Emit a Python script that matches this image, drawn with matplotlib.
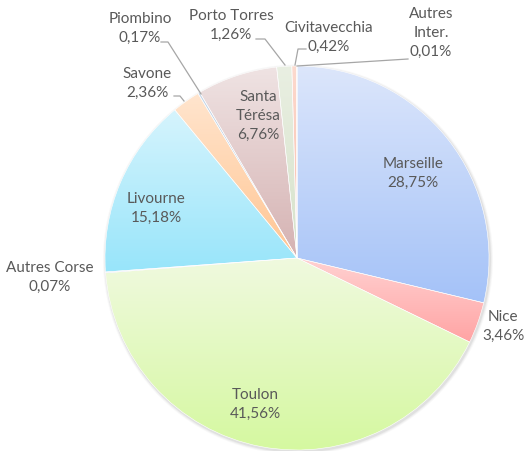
import matplotlib
matplotlib.use("Agg")
import matplotlib.pyplot as plt
from matplotlib.colors import LinearSegmentedColormap
from matplotlib.patches import Circle
import numpy as np

plt.rcParams['font.family'] = ['Lato', 'DejaVu Sans']

# parts in clockwise order from 12 o'clock
ports = ["Marseille", "Nice", "Toulon", "Autres Corse", "Livourne", "Savone",
         "Piombino", "Santa Térésa", "Porto Torres", "Civitavecchia", "Autres Inter."]
shares = [28.75, 3.46, 41.56, 0.07, 15.18, 2.36, 0.17, 6.76, 1.26, 0.42, 0.01]
label_names = ["Marseille", "Nice", "Toulon", "Autres Corse", "Livourne", "Savone",
               "Piombino", "Santa\nTérésa", "Porto Torres", "Civitavecchia", "Autres\nInter."]

# gradient (top, bottom) for each slice
grad_top = ["#DCE6FB", "#FFD2D2", "#F0FADF", "#CFC8EC", "#D6F4FD", "#FFE5CE",
            "#C8D8EA", "#EFE3E3", "#E9EFE2", "#FDDACE", "#C4D2F0"]
grad_bot = ["#A4C2F8", "#FFA4A4", "#D5F8A0", "#B9B0E0", "#98E5FA", "#FFC592",
            "#B0C6DC", "#D5B2B2", "#D6E2CA", "#F8BCAA", "#A9BFEA"]

# label centres in pixel coords (x from left, y from top)
label_xy = [(413, 173), (503, 326), (255, 404), (50, 277), (156, 208), (147, 83),
            (140, 28), (258, 116), (231, 25), (329, 37), (431, 33)]
# leader lines in pixel coords, last point on the pie edge
leaders = {
    "Piombino": [(161, 43), (168, 43), (201, 95)],
    "Savone": [(174, 97), (180, 97), (184, 102)],
    "Porto Torres": [(256, 40), (265, 40), (285, 66)],
    "Civitavecchia": [(306, 50), (298, 50), (295, 66)],
    "Autres Inter.": [(408, 60), (297, 67)],
}

W, H = 524, 452
cx, cy, R = 297, 259, 192

fig = plt.figure(figsize=(W / 100, H / 100), dpi=100)
ax = fig.add_axes([0, 0, 1, 1])

# soft shadow
for k, a in [(3, 0.05), (2, 0.08), (1, 0.12)]:
    ax.add_patch(Circle((cx + 1, H - cy - 1.5), R + k, color="#808080", alpha=a, lw=0, zorder=0))

wedges, _ = ax.pie(shares, center=(cx, H - cy), radius=R, startangle=90,
                   counterclock=False, colors=grad_bot,
                   wedgeprops=dict(edgecolor="white", linewidth=0.4))

for w, top, bot in zip(wedges, grad_top, grad_bot):
    ext = w.get_path().get_extents()
    cmap = LinearSegmentedColormap.from_list("g", [bot, top])
    grad = np.linspace(0, 1, 256).reshape(-1, 1)
    im = ax.imshow(grad, cmap=cmap, origin="lower", aspect="auto",
                   extent=(ext.x0, ext.x1, ext.y0, ext.y1), zorder=1.5)
    im.set_clip_path(w)
    w.set_zorder(2)
    w.set_facecolor("none")

for name, lab, share, (x, y) in zip(ports, label_names, shares, label_xy):
    pct = f"{share:.2f}%".replace(".", ",")
    ax.text(x, H - y, f"{lab}\n{pct}", ha="center", va="center", fontsize=11,
            color="#595959", linespacing=1.45, zorder=5)

for name, pts in leaders.items():
    xs = [p[0] for p in pts]
    ys = [H - p[1] for p in pts]
    ax.plot(xs, ys, color="#A6A6A6", lw=0.9, zorder=4)

ax.set_xlim(0, W)
ax.set_ylim(0, H)
ax.set_aspect("equal")
ax.axis("off")

fig.savefig("out.png", dpi=100)
